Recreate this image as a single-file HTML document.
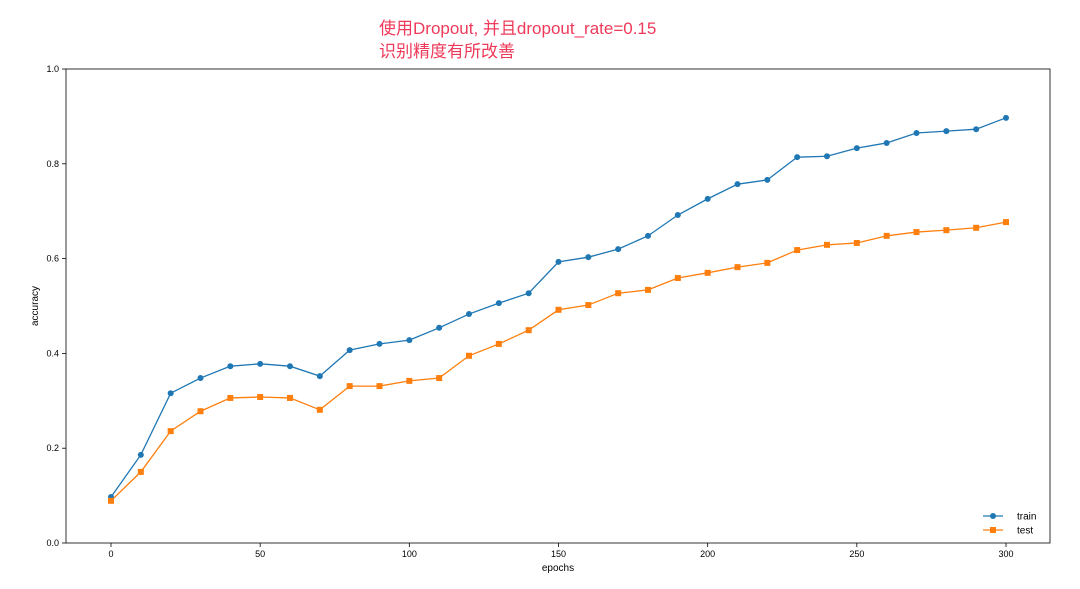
<!DOCTYPE html>
<html><head><meta charset="utf-8"><style>
body{margin:0;background:#fff;}
svg{display:block;font-family:"Liberation Sans","DejaVu Sans",sans-serif;}
</style></head><body>
<svg id="chart" width="1080" height="589">
<text x="379" y="34" font-size="17" fill="#ee3a5a" font-family="'Liberation Sans','Noto Sans CJK SC',sans-serif">使用Dropout, 并且dropout_rate=0.15</text>
<text x="379" y="57" font-size="17" fill="#ee3a5a" font-family="'Liberation Sans','Noto Sans CJK SC',sans-serif">识别精度有所改善</text>
<rect x="66" y="69" width="984" height="474" fill="none" stroke="#000" stroke-width="0.8"/>
<g id="axes"></g>
<g id="series"></g>
<text x="558" y="571" font-size="10" text-anchor="middle">epochs</text>
<text x="0" y="0" font-size="10" text-anchor="middle" transform="translate(38,306) rotate(-90)">accuracy</text>
<g>
<line x1="983" y1="516" x2="1003" y2="516" stroke="#1f77b4" stroke-width="1.3"/>
<circle cx="993" cy="516" r="3" fill="#1f77b4"/>
<text x="1017" y="519.5" font-size="10">train</text>
<line x1="983" y1="530" x2="1003" y2="530" stroke="#ff7f0e" stroke-width="1.3"/>
<rect x="990" y="527" width="6" height="6" fill="#ff7f0e"/>
<text x="1017" y="533.5" font-size="10">test</text>
</g>
</svg>
<script>
const epochs=[0,10,20,30,40,50,60,70,80,90,100,110,120,130,140,150,160,170,180,190,200,210,220,230,240,250,260,270,280,290,300];
const trainAcc=[0.097,0.186,0.316,0.348,0.373,0.378,0.373,0.352,0.407,0.420,0.428,0.454,0.483,0.506,0.527,0.593,0.603,0.620,0.648,0.692,0.726,0.757,0.766,0.814,0.816,0.833,0.844,0.865,0.869,0.873,0.897];
const testAcc=[0.089,0.150,0.236,0.278,0.306,0.308,0.306,0.281,0.331,0.331,0.342,0.348,0.395,0.420,0.449,0.492,0.502,0.527,0.534,0.559,0.570,0.582,0.591,0.618,0.629,0.633,0.648,0.656,0.660,0.665,0.677];
const xTicks=[0,50,100,150,200,250,300];
const yTicks=[0.0,0.2,0.4,0.6,0.8,1.0];
const NS='http://www.w3.org/2000/svg';
const xs=v=>111+v*(1006-111)/300;
const ys=v=>543-v*474;
const axes=document.getElementById('axes'),ser=document.getElementById('series');
function mk(tag,attrs,parent){const e=document.createElementNS(NS,tag);for(const k in attrs)e.setAttribute(k,attrs[k]);parent.appendChild(e);return e;}
xTicks.forEach(t=>{
 const l=mk('line',{x1:xs(t),x2:xs(t),y1:543,y2:547,stroke:'#000','stroke-width':0.8},axes);
 
 
 const tx=mk('text',{x:xs(t),y:557,'font-size':9,'text-anchor':'middle'},axes);tx.textContent=t;
 
 
});
yTicks.forEach(t=>{
 const l=mk('line',{x1:62,x2:66,y1:ys(t),y2:ys(t),stroke:'#000','stroke-width':0.8},axes);
 
 
 const tx=mk('text',{x:59,y:ys(t)+3,'font-size':9,'text-anchor':'end'},axes);tx.textContent=t.toFixed(1);
 
 
});
function drawSeries(vals,color,name,square){
 const p=mk('polyline',{points:epochs.map((e,i)=>xs(e)+','+ys(vals[i])).join(' '),fill:'none',stroke:color,'stroke-width':1.3},ser);
 
 
 epochs.forEach((e,i)=>{
  let m;
  if(square)m=mk('rect',{x:xs(e)-3,y:ys(vals[i])-3,width:6,height:6,fill:color},ser);
  else m=mk('circle',{cx:xs(e),cy:ys(vals[i]),r:3,fill:color},ser);
  
  
 });
}
drawSeries(trainAcc,'#1f77b4','train',false);
drawSeries(testAcc,'#ff7f0e','test',true);
</script>
</body></html>
